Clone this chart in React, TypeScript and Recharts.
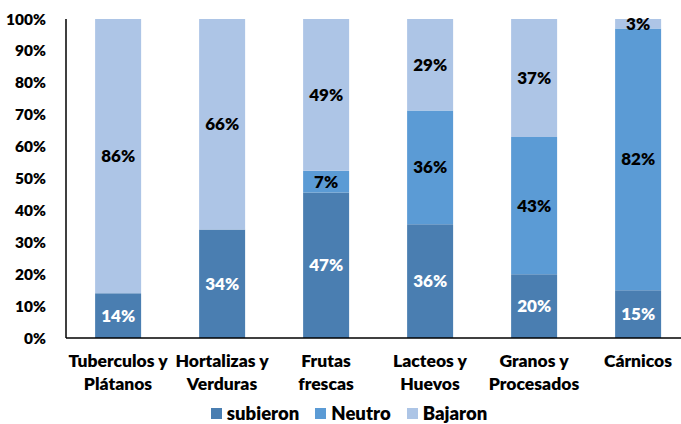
import React from "react";
import { BarChart, Bar, XAxis, YAxis, Legend, LabelList } from "recharts";

const categories = [
  "Tuberculos y\nPlátanos",
  "Hortalizas y\nVerduras",
  "Frutas\nfrescas",
  "Lacteos y\nHuevos",
  "Granos y\nProcesados",
  "Cárnicos",
];
const subieron = [14, 34, 47, 36, 20, 15];
const neutro = [0, 0, 7, 36, 43, 82];
const bajaron = [86, 66, 49, 29, 37, 3];
const yTicks = [0, 0.1, 0.2, 0.3, 0.4, 0.5, 0.6, 0.7, 0.8, 0.9, 1];

const data = categories.map((c, i) => ({
  name: c,
  subieron: subieron[i],
  Neutro: neutro[i],
  Bajaron: bajaron[i],
}));

const FONT = "Lato, 'Open Sans', sans-serif";
const COLORS = { subieron: "#4a7eb1", Neutro: "#5b9bd5", Bajaron: "#adc5e6" };

const XTick = (props: any) => {
  const { x, y, payload } = props;
  const lines = String(payload.value).split("\n");
  return (
    <g>
      {lines.map((l: string, i: number) => (
        <text
          key={i}
          x={x}
          y={y + 21 + i * 23}
          textAnchor="middle"
          fontFamily={FONT}
          fontWeight={800}
          fontSize={17.5}
          fill="#000"
        >
          {l}
        </text>
      ))}
    </g>
  );
};

const makeLabel = (color: string) => (props: any) => {
  const { x, y, width, height, value } = props;
  if (!value) return null;
  return (
    <text
      x={x + width / 2}
      y={y + height / 2 + 6}
      textAnchor="middle"
      fontFamily={FONT}
      fontWeight={800}
      fontSize={17}
      fill={color}
    >
      {value}%
    </text>
  );
};

const LegendContent = () => {
  const items = [
    ["subieron", COLORS.subieron],
    ["Neutro", COLORS.Neutro],
    ["Bajaron", COLORS.Bajaron],
  ];
  return (
    <div
      style={{
        display: "flex",
        justifyContent: "center",
        fontFamily: FONT,
        fontWeight: 800,
        fontSize: 18.5,
        lineHeight: "20px",
        paddingLeft: 14,
      }}
    >
      {items.map(([n, c]) => (
        <div key={n} style={{ display: "flex", alignItems: "center", marginRight: 16 }}>
          <div style={{ width: 11, height: 11, background: c, marginRight: 5 }} />
          <span>{n}</span>
        </div>
      ))}
    </div>
  );
};

export default function App() {
  return (
    <div style={{ position: "absolute", top: 0, left: 0, width: 681, height: 424, overflow: "hidden", background: "#fff" }}>
      <BarChart
        width={700}
        height={424}
        data={data}
        stackOffset="expand"
        margin={{ top: 19, right: 10, left: 0, bottom: 10 }}
        barCategoryGap="28%"
      >
        <XAxis
          dataKey="name"
          height={56}
          tickLine={false}
          axisLine={{ stroke: "#000", strokeWidth: 1.5 }}
          tick={<XTick />}
          interval={0}
        />
        <YAxis
          width={66}
          ticks={yTicks}
          domain={[0, 1]}
          tickFormatter={(v: number) => `${Math.round(v * 100)}%`}
          tickLine={false}
          axisLine={{ stroke: "#000", strokeWidth: 1.5 }}
          tick={{ fontFamily: FONT, fontWeight: 800, fontSize: 15.5, fill: "#000" }}
          tickMargin={14}
        />
        <Legend
          verticalAlign="bottom"
          height={20}
          content={<LegendContent />}
          wrapperStyle={{ position: "absolute", top: 403, bottom: "auto", left: 0, width: 700, height: 20 }}
        />
        <Bar dataKey="subieron" stackId="a" fill={COLORS.subieron} isAnimationActive={false}>
          <LabelList dataKey="subieron" content={makeLabel("#fff")} />
        </Bar>
        <Bar dataKey="Neutro" stackId="a" fill={COLORS.Neutro} isAnimationActive={false}>
          <LabelList dataKey="Neutro" content={makeLabel("#000")} />
        </Bar>
        <Bar dataKey="Bajaron" stackId="a" fill={COLORS.Bajaron} isAnimationActive={false}>
          <LabelList dataKey="Bajaron" content={makeLabel("#000")} />
        </Bar>
      </BarChart>
    </div>
  );
}
